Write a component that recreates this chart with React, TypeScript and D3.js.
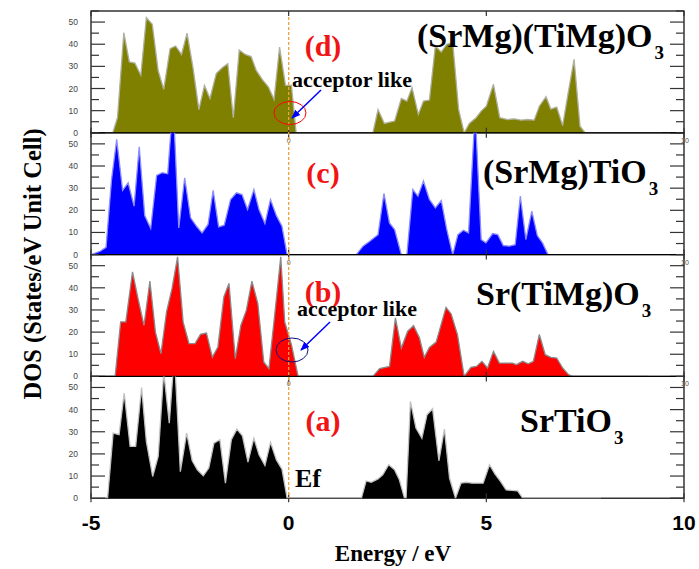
import React, { useEffect, useRef } from 'react'
import * as d3 from 'd3'

// DOS curves, [energy eV, states]
const dosD: [number, number][] = [
  [-5, 0], [-4.45, 0], [-4.33, 6.8], [-4.17, 45.2], [-4.03, 32], [-3.89, 31.5], [-3.74, 26],
  [-3.6, 52], [-3.45, 49], [-3.3, 28], [-3.16, 19.6], [-3.0, 38], [-2.86, 39.2], [-2.71, 35.4],
  [-2.57, 45], [-2.42, 29.4], [-2.27, 10.5], [-2.13, 21.4], [-1.99, 15.5], [-1.83, 26.8],
  [-1.68, 29.4], [-1.54, 31.2], [-1.4, 6.8], [-1.25, 37.4], [-1.1, 35.4], [-0.95, 34.4],
  [-0.82, 28.2], [-0.67, 24.1], [-0.51, 20.6], [-0.37, 15], [-0.23, 38.7], [-0.08, 21.4],
  [0.07, 21.4], [0.19, 0], [2.13, 0], [2.26, 10.5], [2.42, 4.2], [2.68, 5.3], [2.85, 15.5],
  [2.99, 14.3], [3.12, 20.4], [3.28, 8.3], [3.41, 14.3], [3.56, 14.8], [3.71, 39.2], [3.86, 36.5],
  [4.0, 40], [4.15, 40.7], [4.3, 10.5], [4.44, 0], [4.57, 4.2], [4.74, 6.8], [4.87, 9.8],
  [5.0, 12], [5.18, 21.9], [5.34, 6.8], [5.54, 6], [5.71, 6.3], [5.88, 5.7], [6.04, 6],
  [6.21, 5.7], [6.34, 12], [6.51, 16.3], [6.63, 10.7], [6.78, 11.6], [6.93, 3.3], [7.07, 18],
  [7.22, 33.2], [7.37, 3], [7.5, 0], [9.44, 0]
]

const dosC: [number, number][] = [
  [-5, 0], [-4.77, 1.5], [-4.62, 3.3], [-4.48, 34], [-4.35, 52], [-4.2, 29], [-4.06, 32.4],
  [-3.91, 21.9], [-3.78, 48.7], [-3.64, 17.6], [-3.49, 11.8], [-3.34, 35.7], [-3.2, 37],
  [-3.06, 36.5], [-2.96, 60], [-2.9, 60], [-2.78, 12], [-2.63, 34.7], [-2.48, 16.6],
  [-2.33, 12.8], [-2.19, 9.8], [-2.04, 13.6], [-1.91, 29], [-1.77, 12.5], [-1.63, 13.3],
  [-1.47, 24.9], [-1.32, 27.9], [-1.18, 27.1], [-1.04, 20.4], [-0.88, 29.4], [-0.75, 20.4],
  [-0.6, 14], [-0.46, 24.9], [-0.31, 17.6], [-0.17, 12.8], [-0.04, 0], [1.71, 0], [1.88, 3.8],
  [2.05, 6], [2.26, 9], [2.41, 27.6], [2.55, 14.3], [2.68, 11.3], [2.85, 0], [2.99, 0],
  [3.14, 29.4], [3.27, 26.4], [3.41, 33.2], [3.56, 24.9], [3.71, 21.1], [3.86, 24.4],
  [4.0, 11.3], [4.15, 0], [4.28, 9], [4.42, 11], [4.55, 9.8], [4.69, 56], [4.74, 56],
  [4.87, 6.8], [4.99, 5.3], [5.16, 9.5], [5.29, 9], [5.43, 4.1], [5.58, 3.8], [5.73, 4.5],
  [5.86, 26.4], [6.0, 6.8], [6.15, 19.6], [6.29, 8.6], [6.42, 5.3], [6.56, 0], [8.43, 0]
]

const dosB: [number, number][] = [
  [-5, 0], [-4.39, 0], [-4.25, 24.6], [-4.12, 24.6], [-3.95, 47.2], [-3.81, 35.1], [-3.66, 23],
  [-3.51, 43], [-3.37, 20], [-3.23, 10.3], [-3.09, 29.1], [-2.95, 39.7], [-2.81, 54],
  [-2.67, 24.6], [-2.52, 14.8], [-2.37, 14.8], [-2.23, 19], [-2.08, 19.6], [-1.93, 8.7],
  [-1.79, 13.3], [-1.64, 35.9], [-1.51, 42], [-1.35, 8], [-1.21, 23], [-1.07, 29.9],
  [-0.93, 43], [-0.78, 32.9], [-0.63, 6.5], [-0.5, 3.5], [-0.35, 28.4], [-0.2, 54],
  [-0.1, 24.6], [0.07, 14.3], [0.24, 0], [2.13, 0], [2.3, 3.5], [2.55, 4.5], [2.7, 26.4],
  [2.85, 12.8], [3.01, 20.4], [3.16, 22.9], [3.31, 17.3], [3.43, 8.6], [3.56, 13.1],
  [3.73, 15.5], [3.98, 31.2], [4.11, 28.2], [4.27, 18.9], [4.44, 0], [4.61, 4.1], [4.75, 4.5],
  [4.89, 6.8], [5.03, 3.8], [5.18, 11.3], [5.33, 6], [5.5, 6], [5.66, 6], [5.76, 5.3],
  [5.92, 6.8], [6.06, 5.7], [6.19, 6.8], [6.34, 18.9], [6.49, 9.8], [6.63, 8.6], [6.78, 8.3],
  [6.93, 3.8], [7.08, 0.8], [7.18, 0], [9.1, 0]
]

const dosA: [number, number][] = [
  [-5, 0], [-4.58, 0], [-4.44, 29.4], [-4.29, 28.7], [-4.16, 47.5], [-4.01, 23.4], [-3.87, 23.4],
  [-3.72, 50], [-3.6, 25.6], [-3.44, 9.8], [-3.3, 18.9], [-3.16, 57], [-3.02, 33.9],
  [-2.92, 58], [-2.87, 58], [-2.74, 12], [-2.58, 29.4], [-2.44, 16.9], [-2.31, 12.8],
  [-2.16, 10.1], [-2.02, 13.6], [-1.89, 24.9], [-1.74, 26.4], [-1.6, 6.8], [-1.45, 26.4],
  [-1.31, 31.2], [-1.17, 28.2], [-1.03, 16.3], [-0.88, 27.1], [-0.75, 19.6], [-0.6, 14.8],
  [-0.46, 25.2], [-0.31, 17.3], [-0.17, 13.1], [-0.04, 0], [1.84, 0], [1.96, 7.8], [2.09, 7.2],
  [2.26, 8.7], [2.38, 10.6], [2.53, 15.1], [2.68, 12.8], [2.8, 8.3], [2.93, 0], [2.97, 0],
  [3.08, 43.7], [3.22, 31.7], [3.37, 27.1], [3.5, 37.7], [3.64, 40.4], [3.8, 16.9],
  [3.94, 31.2], [4.07, 9], [4.22, 0], [4.36, 6.8], [4.49, 7.2], [4.64, 6.8], [4.78, 6.8],
  [4.92, 6.8], [5.08, 15.1], [5.22, 10.9], [5.35, 7.8], [5.5, 3.8], [5.64, 3.5], [5.79, 3.3],
  [5.92, 0], [7.9, 0]
]

const panelTags = ['(d)', '(c)', '(b)', '(a)']
const formulas = ['(SrMg)(TiMg)O', '(SrMg)TiO', 'Sr(TiMg)O', 'SrTiO']
const fills = ['#808000', '#0000ff', '#ff0000', '#000000']
const strokes = ['#b0b0a0', '#8c8cff', '#8a8a8a', '#c0c0c0']
const xTicks = [-5, 0, 5, 10]
const yTicks = [0, 10, 20, 30, 40, 50]

export default function App() {
  const ref = useRef<SVGSVGElement>(null)

  useEffect(() => {
    const W = 699, H = 569
    const svg = d3.select(ref.current).attr('width', W).attr('height', H)
    svg.selectAll('*').remove()

    const left = 91, right = 684, top = 11, ph = 121.8
    const x = d3.scaleLinear().domain([-5, 10]).range([left, right])
    const serif = '"Liberation Serif", "Times New Roman", serif'
    const sans = '"Liberation Sans", Arial, sans-serif'

    const data = [dosD, dosC, dosB, dosA]
    // placement of formula text and tag per panel (offsets from panel top)
    const formulaX = [417, 483, 476, 520]
    const formulaDy = [36, 50, 50, 56]
    const tagDy = [45, 50, 47, 55]

    data.forEach((d, i) => {
      const y0 = top + i * ph
      const y = d3.scaleLinear().domain([0, 55]).range([y0 + ph, y0])
      const g = svg.append('g')

      g.append('clipPath').attr('id', `clip${i}`)
        .append('rect').attr('x', left).attr('y', y0).attr('width', right - left).attr('height', ph)

      // frame
      g.append('rect').attr('x', left).attr('y', y0).attr('width', right - left).attr('height', ph)
        .attr('fill', 'none').attr('stroke', '#000').attr('stroke-width', 1.2)

      const area = d3.area<[number, number]>().x(p => x(p[0])).y0(y(0)).y1(p => y(p[1]))
      const line = d3.line<[number, number]>().x(p => x(p[0])).y(p => y(p[1]))
      g.append('path').datum(d).attr('d', area).attr('fill', fills[i])
        .attr('clip-path', `url(#clip${i})`)
      g.append('path').datum(d).attr('d', line).attr('fill', 'none')
        .attr('stroke', strokes[i]).attr('stroke-width', 1.3)
        .attr('clip-path', `url(#clip${i})`)

      // left / right axis ticks
      d3.range(0, 56, 5).forEach(v => {
        const major = v % 10 === 0
        const len = major ? 14 : 8
        g.append('line').attr('x1', left).attr('x2', left + len).attr('y1', y(v)).attr('y2', y(v))
          .attr('stroke', '#333').attr('stroke-width', 1.2)
        g.append('line').attr('x1', right).attr('x2', right - len).attr('y1', y(v)).attr('y2', y(v))
          .attr('stroke', '#333').attr('stroke-width', 1.2)
      })
      yTicks.forEach(v => {
        g.append('text').attr('x', 78).attr('y', y(v) + 3).attr('text-anchor', 'end')
          .attr('font-family', sans).attr('font-size', 8.5).attr('fill', '#444').text(v)
      })

      // top/bottom energy ticks
      xTicks.forEach(v => {
        g.append('line').attr('x1', x(v)).attr('x2', x(v)).attr('y1', y0).attr('y2', y0 + 5)
          .attr('stroke', '#333').attr('stroke-width', 1.2)
        g.append('line').attr('x1', x(v)).attr('x2', x(v)).attr('y1', y0 + ph).attr('y2', y0 + ph - 5)
          .attr('stroke', '#333').attr('stroke-width', 1.2)
      })
      if (i > 0) {
        g.append('text').attr('x', x(0)).attr('y', y0 + 10).attr('text-anchor', 'middle')
          .attr('font-family', sans).attr('font-size', 7).attr('fill', '#555').text('0')
        g.append('text').attr('x', x(10) + 1).attr('y', y0 + 10).attr('text-anchor', 'middle')
          .attr('font-family', sans).attr('font-size', 7).attr('fill', '#555').text('10')
      }

      // panel tag
      g.append('text').attr('x', 323).attr('y', y0 + tagDy[i]).attr('text-anchor', 'middle')
        .attr('font-family', serif).attr('font-weight', 'bold').attr('font-size', 30)
        .attr('fill', '#f01414').text(panelTags[i])

      // formula with subscript
      const t = g.append('text').attr('x', formulaX[i]).attr('y', y0 + formulaDy[i])
        .attr('font-family', serif).attr('font-weight', 'bold').attr('font-size', 34).attr('fill', '#000')
      t.append('tspan').text(formulas[i])
      t.append('tspan').attr('dy', 12).attr('dx', 2).attr('font-size', 19).text('3')
    })

    // Fermi level
    svg.append('line').attr('x1', x(0)).attr('x2', x(0)).attr('y1', top + 6).attr('y2', top + 4 * ph)
      .attr('stroke', '#f0a040').attr('stroke-width', 1.3).attr('stroke-dasharray', '3,2')

    // annotations
    const ann = [
      { tx: 292, ty: 87, cx: 290, cy: 113, rx: 16, ry: 11.5, ring: '#ff0000', ax1: 321, ay1: 90, ax2: 292, ay2: 118 },
      { tx: 297, ty: 316, cx: 292, cy: 350, rx: 16, ry: 12, ring: '#101080', ax1: 330, ay1: 322, ax2: 301, ay2: 350 }
    ]
    const defs = svg.append('defs')
    defs.append('marker').attr('id', 'arr').attr('viewBox', '0 0 10 10').attr('refX', 9).attr('refY', 5)
      .attr('markerWidth', 6).attr('markerHeight', 6).attr('orient', 'auto')
      .append('path').attr('d', 'M0,1 L10,5 L0,9 Z').attr('fill', '#0000ff')
    ann.forEach(a => {
      svg.append('ellipse').attr('cx', a.cx).attr('cy', a.cy).attr('rx', a.rx).attr('ry', a.ry)
        .attr('fill', 'none').attr('stroke', a.ring).attr('stroke-width', 1)
      svg.append('line').attr('x1', a.ax1).attr('y1', a.ay1).attr('x2', a.ax2).attr('y2', a.ay2)
        .attr('stroke', '#0000ff').attr('stroke-width', 1.5).attr('marker-end', 'url(#arr)')
      svg.append('text').attr('x', a.tx).attr('y', a.ty).attr('font-family', serif)
        .attr('font-weight', 'bold').attr('font-size', 22).attr('fill', '#000').text('acceptor like')
    })

    svg.append('text').attr('x', 295).attr('y', 487).attr('font-family', serif)
      .attr('font-weight', 'bold').attr('font-size', 26).text('Ef')

    // x axis labels
    const bottom = top + 4 * ph
    xTicks.forEach(v => {
      svg.append('line').attr('x1', x(v)).attr('x2', x(v)).attr('y1', bottom).attr('y2', bottom + 4)
        .attr('stroke', '#333').attr('stroke-width', 1.2)
      svg.append('text').attr('x', x(v)).attr('y', 530).attr('text-anchor', 'middle')
        .attr('font-family', sans).attr('font-weight', 'bold').attr('font-size', 21).text(v)
    })
    svg.append('text').attr('x', 393).attr('y', 561).attr('text-anchor', 'middle')
      .attr('font-family', serif).attr('font-weight', 'bold').attr('font-size', 23).text('Energy / eV')
    svg.append('text').attr('transform', 'translate(41,264) rotate(-90)').attr('text-anchor', 'middle')
      .attr('font-family', serif).attr('font-weight', 'bold').attr('font-size', 24.5)
      .text('DOS (States/eV Unit Cell)')
  }, [])

  return (
    <div style={{ position: 'absolute', left: 0, top: 0 }}>
      <svg ref={ref} style={{ display: 'block', background: '#fff' }} />
    </div>
  )
}
